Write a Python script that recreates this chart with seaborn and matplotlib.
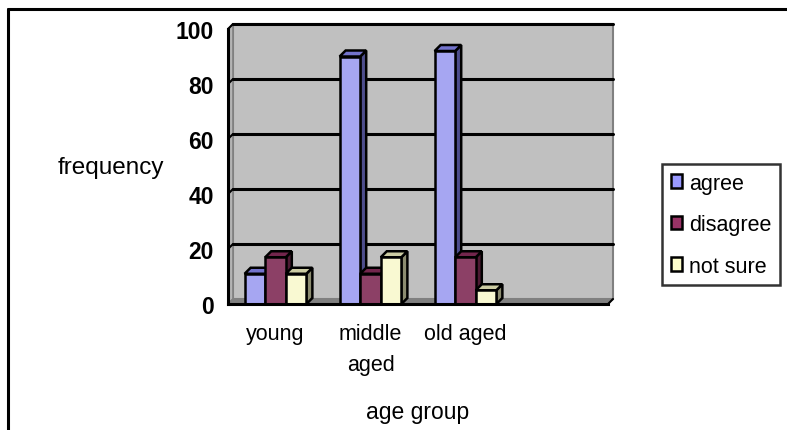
import numpy as np
import pandas as pd
import seaborn as sns
import matplotlib.pyplot as plt
from matplotlib.patches import Polygon, Patch
from matplotlib.lines import Line2D
from matplotlib import font_manager

# data
groups = ['young', 'middle\naged', 'old aged']
responses = ['agree', 'disagree', 'not sure']
agree = [11, 90, 92]
disagree = [17, 11, 17]
not_sure = [11, 17, 5]

front_cols = ['#9999FF', '#993366', '#FFFFCC']
side_cols = ['#4D4D8C', '#4D1A33', '#8C8C70']
top_cols = ['#7373CC', '#73264D', '#CCCCA3']

df = pd.DataFrame({
    'age': groups * 3,
    'response': np.repeat(responses, 3),
    'freq': agree + disagree + not_sure,
})

sns.set_style('white')
plt.rcParams['text.color'] = 'black'
plt.rcParams['xtick.color'] = 'black'
plt.rcParams['ytick.color'] = 'black'
names = {f.name for f in font_manager.fontManager.ttflist}
if 'Liberation Sans Narrow' in names:
    plt.rcParams['font.family'] = ['Liberation Sans Narrow', 'DejaVu Sans']
    k = 1.15
else:
    plt.rcParams['font.family'] = ['Liberation Sans', 'DejaVu Sans']
    k = 1.0

W, H = 787, 431
fig = plt.figure(figsize=(W / 100, H / 100), dpi=100)
ax = fig.add_axes([228 / W, (H - 305) / H, 380 / W, 275 / H])
ax.set_facecolor('none')

sns.barplot(data=df, x='age', y='freq', hue='response',
            order=groups + [''], hue_order=responses,
            palette=front_cols, width=0.65, edgecolor='black',
            linewidth=1.8, legend=False, ax=ax)

ax.set_xlim(-0.5, 3.5)
ax.set_ylim(0, 100)

# pixel -> data conversion for the 3D depth
px_x = 4 / 380
px_y = 100 / 275
wx, wy = 5 * px_x, 5 * px_y   # wall depth
bx, by = 6 * px_x, 6 * px_y   # bar depth

x0, x1 = -0.5, 3.5
# back wall
ax.add_patch(Polygon([(x0 + wx, wy), (x1 + wx, wy), (x1 + wx, 100 + wy), (x0 + wx, 100 + wy)],
                     closed=True, fc='#C0C0C0', ec='#808080', lw=1.5, zorder=0.5, clip_on=False))
# side wall
ax.add_patch(Polygon([(x0, 0), (x0 + wx, wy), (x0 + wx, 100 + wy), (x0, 100)],
                     closed=True, fc='#B4B4B4', ec='#808080', lw=1.2, zorder=0.6, clip_on=False))
# floor
ax.add_patch(Polygon([(x0, 0), (x1, 0), (x1 + wx, wy), (x0 + wx, wy)],
                     closed=True, fc='#808080', ec='#808080', lw=1.0, zorder=0.7, clip_on=False))
ax.plot([x1, x1 + wx], [0, wy], color='black', lw=1.5, zorder=0.8, clip_on=False)

# gridlines on the walls
for yv in range(20, 101, 20):
    ax.plot([x0 + wx, x1 + wx], [yv + wy, yv + wy], color='black', lw=2.2, zorder=1, clip_on=False)
    ax.plot([x0, x0 + wx], [yv, yv + wy], color='black', lw=1.5, zorder=1, clip_on=False)

# 3D faces on each bar
for i, cont in enumerate(ax.containers):
    for rect in cont:
        h = rect.get_height()
        if not np.isfinite(h) or h <= 0:
            continue
        l, r = rect.get_x(), rect.get_x() + rect.get_width()
        base = 3 + 3 * i
        ax.add_patch(Polygon([(r, 0), (r + bx, by), (r + bx, h + by), (r, h)],
                             closed=True, fc=side_cols[i], ec='black', lw=1.8,
                             zorder=base, clip_on=False))
        ax.add_patch(Polygon([(l, h), (r, h), (r + bx, h + by), (l + bx, h + by)],
                             closed=True, fc=top_cols[i], ec='black', lw=1.8,
                             zorder=base + 1, clip_on=False))
        rect.set_zorder(base + 2)

for s in ['top', 'right']:
    ax.spines[s].set_visible(False)
for s in ['left', 'bottom']:
    ax.spines[s].set_color('black')
    ax.spines[s].set_linewidth(2.2)
    ax.spines[s].set_zorder(20)

ax.set_yticks(range(0, 101, 20))
ax.tick_params(axis='y', direction='out', length=7, width=2, color='black', pad=3,
               labelsize=16.5 * k, labelcolor='black')
for t in ax.get_yticklabels():
    t.set_fontweight('bold')

ax.set_xticks([0, 1, 2, 3])
ax.set_xticklabels(groups + [''])
ax.set_xticks([0.5, 1.5, 2.5, 3.5], minor=True)
ax.tick_params(axis='x', which='major', length=0, pad=14, labelsize=15.5 * k,
               labelcolor='black')
ax.tick_params(axis='x', which='minor', direction='out', length=7, width=1.8, color='black')
for t in ax.get_xticklabels():
    t.set_linespacing(1.6)
ax.set_xlabel('')
ax.set_ylabel('')

fig.text(111 / W, 1 - 168 / H, 'frequency', ha='center', va='center', fontsize=17.5 * k)
fig.text(418 / W, 1 - 413 / H, 'age group', ha='center', va='center', fontsize=16.5 * k)

handles = [Patch(facecolor=c, edgecolor='black', linewidth=1.8) for c in front_cols]
leg = fig.legend(handles, responses, loc='upper left', bbox_to_anchor=(662 / W, 1 - 165 / H),
                 frameon=True, fancybox=False, shadow=False, edgecolor='black',
                 fontsize=15.5 * k, handlelength=0.55, handleheight=0.6,
                 handletextpad=0.3, labelspacing=0.95, borderpad=0.4, borderaxespad=0)
leg.get_frame().set_linewidth(1.8)

# chart border (cropped at right and bottom)
fig.add_artist(Line2D([8 / W, 1], [1 - 10 / H, 1 - 10 / H], transform=fig.transFigure,
                      color='black', lw=2.2))
fig.add_artist(Line2D([8 / W, 8 / W], [0, 1 - 10 / H], transform=fig.transFigure,
                      color='black', lw=2.2))

fig.savefig('out.png', dpi=100)
